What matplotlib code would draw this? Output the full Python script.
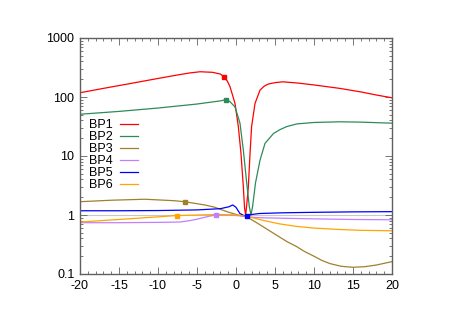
import matplotlib
matplotlib.use('Agg')
import matplotlib.pyplot as plt
from matplotlib.ticker import MultipleLocator, LogLocator, NullFormatter, FixedFormatter, FixedLocator

plt.rcParams['font.family'] = ['Liberation Sans', 'DejaVu Sans']
plt.rcParams['axes.unicode_minus'] = False

# Data
bp1_x = [-20, -17, -14, -11, -8, -6, -4.6, -3, -2, -1.5, -1.1, -0.77, -0.13, 0.3, 0.64,
         0.94, 1.1, 1.24, 1.4, 1.58, 1.8, 2.0, 2.44, 3.08, 3.6, 4.15, 5, 6, 8, 10,
         13.3, 16, 18, 20]
bp1_y = [118, 140, 165, 195, 230, 255, 268, 262, 245, 218, 185, 150, 78, 31.6, 11,
         3.0, 1.3, 1.0, 1.6, 3.0, 11, 31.6, 78, 131, 152, 166, 175, 181, 172, 160,
         140, 122, 108, 97]

bp2_x = [-20, -15, -10, -5, -2, -1.28, -0.8, -0.13, 0.51, 0.94, 1.37, 1.7, 1.92, 2.13,
         2.5, 3.08, 3.72, 4.8, 5.64, 6.5, 7.8, 10, 13.3, 16, 20]
bp2_y = [51, 57, 65, 76, 86, 90, 84, 68, 36, 12.6, 3.5, 1.4, 1.0, 1.4,
         3.5, 8.5, 16.4, 24, 28, 31.5, 35, 37, 38, 37.5, 36]

bp3_x = [-20, -16, -11.7, -8, -6.6, -4, -2.7, -1, 0.26, 1.37, 2.5, 3.5, 4.5, 5.5, 6.6,
         7.8, 8.8, 10, 11, 12.05, 13.5, 15, 16.5, 18, 20]
bp3_y = [1.68, 1.78, 1.85, 1.75, 1.68, 1.48, 1.35, 1.12, 1.0, 0.93, 0.76, 0.63, 0.52, 0.43,
         0.35, 0.29, 0.24, 0.2, 0.17, 0.15, 0.135, 0.13, 0.133, 0.142, 0.162]

bp4_x = [-20, -15, -10, -7.2, -6, -5, -3.5, -2.56, -1, 0.5, 1.4, 3, 6, 10, 15, 20]
bp4_y = [0.74, 0.74, 0.75, 0.76, 0.8, 0.85, 0.95, 1.0, 1.0, 0.97, 0.93, 0.9, 0.88, 0.86,
         0.84, 0.83]

bp5_x = [-20, -15, -10, -5, -2, -0.9, -0.42, 0, 0.5, 1, 1.4, 2, 3, 6, 10, 15, 20]
bp5_y = [1.18, 1.18, 1.19, 1.22, 1.28, 1.38, 1.48, 1.35, 1.06, 0.98, 0.98, 1.02, 1.06,
         1.09, 1.11, 1.13, 1.14]

bp6_x = [-20, -15, -10, -7.6, -5, -2, 0, 1.4, 3.5, 5.5, 7.8, 10, 13, 16, 20]
bp6_y = [0.76, 0.84, 0.93, 0.98, 1.0, 1.02, 1.0, 0.95, 0.81, 0.71, 0.64, 0.6, 0.57, 0.55, 0.54]

# one highlighted point per curve
mark_x = [-1.5, -1.28, -6.6, -2.56, 1.4, -7.6]
mark_y = [218, 90, 1.68, 1.0, 0.98, 0.98]

labels = ['BP1', 'BP2', 'BP3', 'BP4', 'BP5', 'BP6']
colors = ['#ff0000', '#2e8b57', '#a08030', '#c080ff', '#0000ff', '#ffa500']

series = [(bp1_x, bp1_y), (bp2_x, bp2_y), (bp3_x, bp3_y),
          (bp4_x, bp4_y), (bp5_x, bp5_y), (bp6_x, bp6_y)]

fig = plt.figure(figsize=(4.52, 3.2), dpi=100)
ax = fig.add_axes([80 / 452, 46 / 320, 312 / 452, 236 / 320])

ax.axhline(1, color='#c8c8c8', lw=0.8, zorder=1)

for (xs, ys), lab, c in zip(series, labels, colors):
    ax.plot(xs, ys, color=c, lw=0.9, label=lab, zorder=2)
for mx, my, c in zip(mark_x, mark_y, colors):
    ax.plot(mx, my, 's', color=c, ms=3, zorder=3)

ax.set_yscale('log')
ax.set_xlim(-20, 20)
ax.set_ylim(0.1, 1000)
ax.xaxis.set_major_locator(MultipleLocator(5))
ax.xaxis.set_minor_locator(MultipleLocator(1))
ax.yaxis.set_major_locator(FixedLocator([0.1, 1, 10, 100, 1000]))
ax.yaxis.set_major_formatter(FixedFormatter(['0.1', '1', '10', '100', '1000']))
ax.yaxis.set_minor_locator(LogLocator(base=10, subs=range(2, 10)))
ax.yaxis.set_minor_formatter(NullFormatter())
ax.tick_params(which='both', direction='in', top=True, right=True, labelsize=9, pad=4)
ax.tick_params(which='major', length=5, width=0.6, color='#606060')
ax.tick_params(which='minor', length=2.5, width=0.6, color='#606060')
for s in ax.spines.values():
    s.set_color('#606060')
    s.set_linewidth(1.0)

ax.legend(loc='upper left', bbox_to_anchor=(0.0, 0.693), frameon=False, markerfirst=False,
          fontsize=9, handlelength=1.4, handletextpad=0.6, labelspacing=0.0,
          borderpad=0.2)

fig.savefig('out.png', dpi=100)
